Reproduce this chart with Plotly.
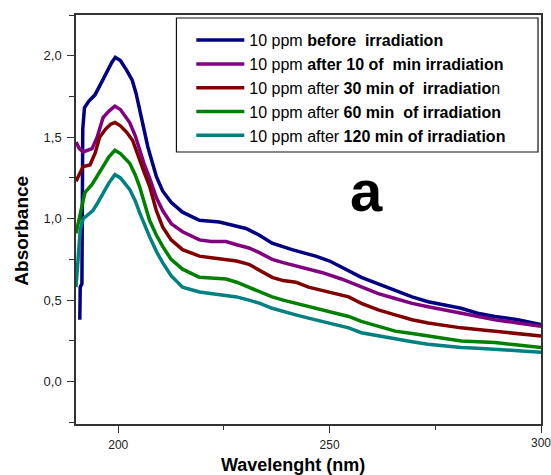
import plotly.graph_objects as go

# ---------------- data ----------------
series_names = [
    "10 ppm <b>before  irradiation</b>",
    "10 ppm <b>after 10 of  min irradiation</b>",
    "10 ppm after <b>30 min of  irradiatio</b>n",
    "10 ppm after <b>60 min  of irradiation</b>",
    "10 ppm after <b>120 min of irradiation</b>",
]
series_colors = ["#000080", "#800080", "#800000", "#008000", "#008080"]

wl_before = [190.9, 191.0, 191.4, 191.6, 192.0, 193.0, 194.5, 195.5, 197.0, 198.5, 199.3,
             200.5, 202.0, 203.3, 204.2, 205.0, 206.0, 207.0, 208.1, 209.0, 210.5, 212.5,
             215.2, 219.2, 223.9, 227.0, 230.2, 233.3, 236.4, 241.1, 246.7, 250.0, 254.5,
             257.5, 261.5, 265.5, 269.5, 273.3, 277.0, 281.1, 285.0, 289.1, 294.5, 300.0]
abs_before = [0.38, 0.58, 0.60, 1.55, 1.68, 1.72, 1.76, 1.81, 1.89, 1.96, 1.99,
              1.97, 1.91, 1.85, 1.77, 1.67, 1.55, 1.44, 1.34, 1.26, 1.17, 1.10,
              1.04, 0.99, 0.98, 0.96, 0.94, 0.90, 0.85, 0.81, 0.77, 0.74, 0.68,
              0.64, 0.60, 0.56, 0.52, 0.49, 0.47, 0.45, 0.42, 0.40, 0.38, 0.35]

wl_10min = [190.0, 190.8, 191.7, 192.8, 193.8, 195.0, 196.4, 197.8, 199.2, 200.5, 202.0,
            202.7, 204.0, 205.0, 206.2, 207.4, 209.0, 210.5, 212.5, 215.2, 219.2, 222.0,
            225.5, 228.0, 230.9, 233.5, 236.4, 239.0, 242.0, 245.0, 248.1, 252.8, 257.5,
            261.5, 265.5, 269.5, 273.3, 277.0, 281.1, 285.0, 289.1, 294.5, 300.0]
abs_10min = [1.47, 1.43, 1.41, 1.42, 1.43, 1.50, 1.62, 1.66, 1.69, 1.67, 1.62,
             1.59, 1.51, 1.42, 1.33, 1.25, 1.13, 1.05, 0.97, 0.92, 0.87, 0.86,
             0.86, 0.84, 0.82, 0.79, 0.75, 0.73, 0.71, 0.69, 0.67, 0.63, 0.58,
             0.54, 0.51, 0.48, 0.46, 0.44, 0.42, 0.40, 0.38, 0.36, 0.34]

wl_30min = [190.0, 191.0, 191.7, 193.3, 194.5, 195.6, 197.0, 198.2, 199.2, 200.5, 202.0,
            203.4, 205.0, 206.2, 207.4, 209.0, 210.5, 212.5, 215.2, 219.2, 222.0, 225.5,
            228.0, 230.9, 233.5, 236.4, 239.0, 242.0, 245.0, 248.1, 251.4, 254.5, 257.5,
            261.5, 265.5, 269.5, 273.3, 277.0, 281.1, 285.0, 289.1, 294.5, 300.0]
abs_30min = [1.23, 1.28, 1.32, 1.33, 1.40, 1.50, 1.55, 1.58, 1.59, 1.57, 1.53,
             1.48, 1.36, 1.28, 1.20, 1.05, 0.95, 0.87, 0.81, 0.77, 0.76, 0.75,
             0.74, 0.72, 0.68, 0.64, 0.62, 0.61, 0.58, 0.56, 0.54, 0.52, 0.48,
             0.44, 0.41, 0.38, 0.36, 0.345, 0.33, 0.32, 0.31, 0.295, 0.28]

wl_60min = [190.0, 190.5, 191.0, 192.1, 193.8, 195.0, 196.4, 197.8, 199.2, 200.5, 202.7,
            204.0, 205.0, 206.2, 207.4, 209.0, 210.5, 212.5, 215.2, 219.2, 222.0, 225.5,
            228.0, 230.9, 233.5, 236.4, 239.0, 242.0, 245.0, 248.1, 251.4, 254.5, 257.5,
            261.5, 265.5, 269.5, 273.3, 277.0, 281.1, 285.0, 289.1, 294.5, 300.0]
abs_60min = [0.91, 0.97, 1.04, 1.16, 1.21, 1.26, 1.32, 1.38, 1.42, 1.40, 1.34,
             1.27, 1.20, 1.10, 0.99, 0.90, 0.83, 0.75, 0.69, 0.64, 0.635, 0.63,
             0.61, 0.58, 0.55, 0.52, 0.50, 0.48, 0.46, 0.44, 0.42, 0.40, 0.37,
             0.34, 0.31, 0.295, 0.28, 0.265, 0.25, 0.245, 0.24, 0.225, 0.21]

wl_120min = [190.0, 190.5, 191.0, 191.7, 193.0, 194.0, 195.2, 196.4, 197.8, 199.2, 200.5,
             202.7, 204.0, 205.0, 206.2, 207.4, 209.0, 210.5, 212.5, 215.2, 219.2, 222.0,
             225.5, 228.0, 230.9, 233.5, 236.4, 239.0, 242.0, 245.0, 248.1, 251.4, 254.5,
             257.5, 261.5, 265.5, 269.5, 273.3, 277.0, 281.1, 285.0, 289.1, 294.5, 300.0]
abs_120min = [0.58, 0.80, 0.93, 1.00, 1.03, 1.05, 1.10, 1.16, 1.22, 1.27, 1.25,
              1.18, 1.11, 1.04, 0.96, 0.89, 0.80, 0.73, 0.65, 0.58, 0.55, 0.54,
              0.53, 0.52, 0.50, 0.48, 0.45, 0.43, 0.41, 0.39, 0.37, 0.35, 0.33,
              0.30, 0.28, 0.26, 0.245, 0.23, 0.22, 0.21, 0.205, 0.20, 0.19, 0.18]

x_tick_vals = [200, 250, 300]
x_tick_text = ["200", "250", "300"]
y_tick_vals = [0.0, 0.5, 1.0, 1.5, 2.0]
y_tick_text = ["0,0", "0,5", "1,0", "1,5", "2,0"]

wavelengths = [wl_before, wl_10min, wl_30min, wl_60min, wl_120min]
absorbances = [abs_before, abs_10min, abs_30min, abs_60min, abs_120min]

# ---------------- figure ----------------
FONT = "Liberation Sans, Arial, sans-serif"
TICKFONT = dict(family=FONT, size=12, color="#222222")
fig = go.Figure()
for name, col, xs, ys in zip(series_names, series_colors, wavelengths, absorbances):
    fig.add_trace(go.Scatter(x=xs, y=ys, mode="lines", name=name,
                             line=dict(color=col, width=3.5)))

axis_common = dict(showgrid=False, zeroline=False, showline=True, linecolor="#333333",
                   linewidth=1.5, mirror=True, ticks="outside", tickcolor="#333333",
                   tickwidth=1.2, ticklen=7)

# the last x label overflows the page edge (as in the original), so it is
# written as an annotation anchored to the axis value instead
fig.update_xaxes(range=[190, 300], tickvals=x_tick_vals, ticktext=x_tick_text[:-1] + [""],
                 ticklabelstandoff=2, tickfont=TICKFONT,
                 minor=dict(dtick=25, tick0=200, ticks="outside", ticklen=4,
                            tickcolor="#333333", tickwidth=1.2),
                 **axis_common)
fig.update_yaxes(range=[-0.26, 2.25], tickvals=y_tick_vals, ticktext=y_tick_text,
                 ticklabelstandoff=3, tickfont=dict(TICKFONT, size=13),
                 minor=dict(dtick=0.25, tick0=0, ticks="outside", ticklen=5,
                            tickcolor="#333333", tickwidth=1.2),
                 **axis_common)

fig.update_layout(
    width=551, height=475,
    margin=dict(l=76, r=8, t=15, b=51),
    paper_bgcolor="white", plot_bgcolor="white",
    showlegend=True,
    legend=dict(x=0.248, y=0.980, xanchor="left", yanchor="top",
                bgcolor="rgba(0,0,0,0)", borderwidth=0,
                font=dict(family=FONT, size=16, color="black"),
                itemwidth=48, tracegroupgap=0),
    shapes=[
        dict(type="rect", xref="paper", yref="paper", x0=0.216, x1=0.9936,
             y0=0.665, y1=0.9927, line=dict(color="#111111", width=1.2),
             fillcolor="white", layer="above"),
    ],
    annotations=[
        dict(text=x_tick_text[-1], x=x_tick_vals[-1], y=0, xref="x", yref="paper",
             yshift=-19, showarrow=False, font=TICKFONT,
             xanchor="center", yanchor="middle"),
        dict(text="<b>a</b>", x=0.625, y=0.57, xref="paper", yref="paper",
             showarrow=False, font=dict(family=FONT, size=58, color="black"),
             xanchor="center", yanchor="middle"),
        dict(text="<b>Wavelenght (nm)</b>", x=0.466, y=-0.1, xref="paper", yref="paper",
             showarrow=False, font=dict(family=FONT, size=18, color="black"),
             xanchor="center", yanchor="middle"),
        dict(text="<b>Absorbance</b>", x=-0.118, y=0.473, xref="paper", yref="paper",
             showarrow=False, textangle=-90, font=dict(family=FONT, size=19, color="black"),
             xanchor="center", yanchor="middle"),
    ],
)

fig.write_html("out.html")
